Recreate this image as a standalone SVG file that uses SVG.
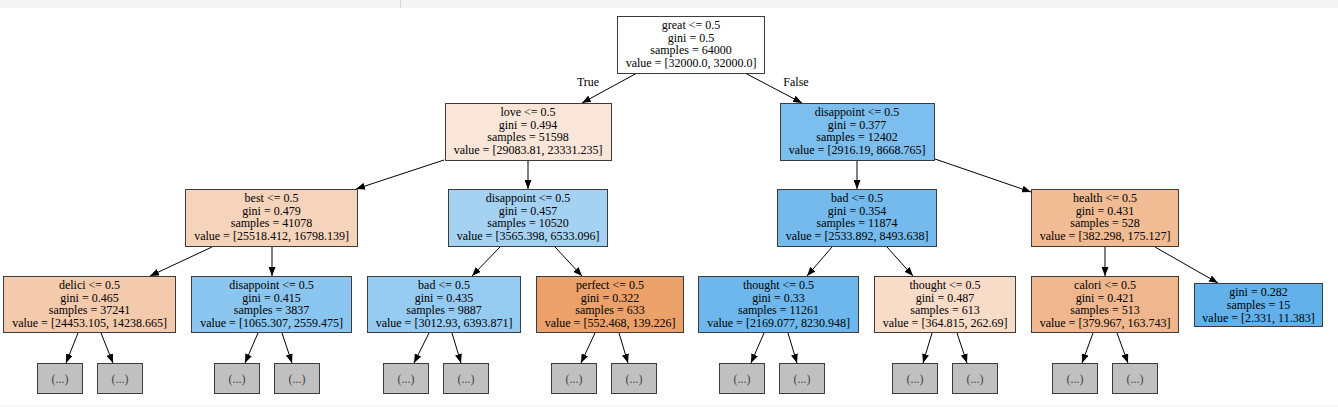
<svg xmlns="http://www.w3.org/2000/svg" width="1338" height="407" viewBox="0 0 1338 407">
<style>
.n rect{stroke:#3c3c3c;stroke-width:1}
.n text{font-family:"Liberation Serif","Times New Roman",serif;font-size:12px;fill:#000;text-anchor:middle}
.e rect{fill:#c0c0c0;stroke:#3c3c3c;stroke-width:1}
.e text{font-family:"Liberation Serif","Times New Roman",serif;font-size:12px;fill:#444;text-anchor:middle}
.c line{stroke:#000;stroke-width:1;marker-end:url(#ah)}
.lbl{font-family:"Liberation Serif","Times New Roman",serif;font-size:12px;fill:#000;text-anchor:middle}
</style>
<defs>
<marker id="ah" markerUnits="userSpaceOnUse" markerWidth="9" markerHeight="7" refX="9" refY="3.5" orient="auto">
<path d="M0,0 L9,3.5 L0,7 z" fill="#000"/>
</marker>
</defs>
<rect x="0" y="0" width="1338" height="407" fill="#fff"/>
<rect x="0" y="0" width="1338" height="8" fill="#f5f5f5"/>
<line x1="400.5" y1="0" x2="400.5" y2="8" stroke="#d8d8d8" stroke-width="1"/>
<rect x="0" y="405" width="1338" height="2" fill="#f7f7f7"/>

<g id="connectors" class="c">
<line x1="637" y1="73" x2="582" y2="103"/>
<line x1="745" y1="73" x2="802" y2="103"/>
<line x1="444" y1="160" x2="356" y2="189"/>
<line x1="528" y1="160" x2="528" y2="189"/>
<line x1="857" y1="160" x2="857" y2="189"/>
<line x1="935" y1="159" x2="1031" y2="192"/>
<line x1="212" y1="247" x2="150" y2="276"/>
<line x1="272" y1="247" x2="272" y2="276"/>
<line x1="500" y1="247" x2="472" y2="276"/>
<line x1="555" y1="247" x2="582" y2="276"/>
<line x1="832" y1="247" x2="807" y2="276"/>
<line x1="887" y1="247" x2="913" y2="276"/>
<line x1="1105" y1="247" x2="1105" y2="276"/>
<line x1="1155" y1="247" x2="1218" y2="283"/>
<line x1="78" y1="333" x2="66" y2="363"/>
<line x1="101" y1="333" x2="113" y2="363"/>
<line x1="258" y1="333" x2="245" y2="363"/>
<line x1="282" y1="333" x2="292" y2="363"/>
<line x1="429" y1="333" x2="414" y2="363"/>
<line x1="452" y1="333" x2="461" y2="363"/>
<line x1="595" y1="333" x2="581" y2="363"/>
<line x1="619" y1="333" x2="628" y2="363"/>
<line x1="764" y1="333" x2="751" y2="363"/>
<line x1="788" y1="333" x2="797" y2="363"/>
<line x1="932" y1="333" x2="923" y2="363"/>
<line x1="957" y1="333" x2="967" y2="363"/>
<line x1="1093" y1="333" x2="1082" y2="363"/>
<line x1="1117" y1="333" x2="1128" y2="363"/>
<text class="lbl" x="588" y="86">True</text>
<text class="lbl" x="796" y="86">False</text>
</g>

<g id="n0" class="n">
<rect x="617.5" y="16.5" width="147" height="57" fill="#ffffff"/>
<text x="691" y="29">great &lt;= 0.5</text>
<text x="691" y="41.6">gini = 0.5</text>
<text x="691" y="54.2">samples = 64000</text>
<text x="691" y="66.8">value = [32000.0, 32000.0]</text>
</g>
<g id="n1" class="n">
<rect x="445.5" y="103.5" width="166" height="57" fill="#fae6d8"/>
<text x="528" y="116">love &lt;= 0.5</text>
<text x="528" y="128.6">gini = 0.494</text>
<text x="528" y="141.2">samples = 51598</text>
<text x="528" y="153.8">value = [29083.81, 23331.235]</text>
</g>
<g id="n2" class="n">
<rect x="780.5" y="103.5" width="154" height="57" fill="#7cbeee"/>
<text x="857" y="116">disappoint &lt;= 0.5</text>
<text x="857" y="128.6">gini = 0.377</text>
<text x="857" y="141.2">samples = 12402</text>
<text x="857" y="153.8">value = [2916.19, 8668.765]</text>
</g>
<g id="n3" class="n">
<rect x="185.5" y="189.5" width="172" height="57" fill="#f6d4bb"/>
<text x="271.5" y="202">best &lt;= 0.5</text>
<text x="271.5" y="214.6">gini = 0.479</text>
<text x="271.5" y="227.2">samples = 41078</text>
<text x="271.5" y="239.8">value = [25518.412, 16798.139]</text>
</g>
<g id="n4" class="n">
<rect x="448.5" y="189.5" width="159" height="57" fill="#a5d2f3"/>
<text x="528" y="202">disappoint &lt;= 0.5</text>
<text x="528" y="214.6">gini = 0.457</text>
<text x="528" y="227.2">samples = 10520</text>
<text x="528" y="239.8">value = [3565.398, 6533.096]</text>
</g>
<g id="n5" class="n">
<rect x="777.5" y="189.5" width="159" height="57" fill="#74baed"/>
<text x="857" y="202">bad &lt;= 0.5</text>
<text x="857" y="214.6">gini = 0.354</text>
<text x="857" y="227.2">samples = 11874</text>
<text x="857" y="239.8">value = [2533.892, 8493.638]</text>
</g>
<g id="n6" class="n">
<rect x="1031.5" y="189.5" width="147" height="57" fill="#f1bb94"/>
<text x="1105" y="202">health &lt;= 0.5</text>
<text x="1105" y="214.6">gini = 0.431</text>
<text x="1105" y="227.2">samples = 528</text>
<text x="1105" y="239.8">value = [382.298, 175.127]</text>
</g>
<g id="n7" class="n">
<rect x="3.5" y="276.5" width="172" height="56" fill="#f4caac"/>
<text x="89.5" y="289">delici &lt;= 0.5</text>
<text x="89.5" y="301.6">gini = 0.465</text>
<text x="89.5" y="314.2">samples = 37241</text>
<text x="89.5" y="326.8">value = [24453.105, 14238.665]</text>
</g>
<g id="n8" class="n">
<rect x="191.5" y="276.5" width="160" height="56" fill="#8bc6f0"/>
<text x="271.5" y="289">disappoint &lt;= 0.5</text>
<text x="271.5" y="301.6">gini = 0.415</text>
<text x="271.5" y="314.2">samples = 3837</text>
<text x="271.5" y="326.8">value = [1065.307, 2559.475]</text>
</g>
<g id="n9" class="n">
<rect x="367.5" y="276.5" width="153" height="56" fill="#96cbf1"/>
<text x="444" y="289">bad &lt;= 0.5</text>
<text x="444" y="301.6">gini = 0.435</text>
<text x="444" y="314.2">samples = 9887</text>
<text x="444" y="326.8">value = [3012.93, 6393.871]</text>
</g>
<g id="n10" class="n">
<rect x="536.5" y="276.5" width="147" height="56" fill="#eca16b"/>
<text x="610" y="289">perfect &lt;= 0.5</text>
<text x="610" y="301.6">gini = 0.322</text>
<text x="610" y="314.2">samples = 633</text>
<text x="610" y="326.8">value = [552.468, 139.226]</text>
</g>
<g id="n11" class="n">
<rect x="698.5" y="276.5" width="160" height="56" fill="#6db7ec"/>
<text x="778.5" y="289">thought &lt;= 0.5</text>
<text x="778.5" y="301.6">gini = 0.33</text>
<text x="778.5" y="314.2">samples = 11261</text>
<text x="778.5" y="326.8">value = [2169.077, 8230.948]</text>
</g>
<g id="n12" class="n">
<rect x="874.5" y="276.5" width="141" height="56" fill="#f8dcc8"/>
<text x="945" y="289">thought &lt;= 0.5</text>
<text x="945" y="301.6">gini = 0.487</text>
<text x="945" y="314.2">samples = 613</text>
<text x="945" y="326.8">value = [364.815, 262.69]</text>
</g>
<g id="n13" class="n">
<rect x="1031.5" y="276.5" width="147" height="56" fill="#f0b78e"/>
<text x="1105" y="289">calori &lt;= 0.5</text>
<text x="1105" y="301.6">gini = 0.421</text>
<text x="1105" y="314.2">samples = 513</text>
<text x="1105" y="326.8">value = [379.967, 163.743]</text>
</g>
<g id="n14" class="n">
<rect x="1194.5" y="283.5" width="128" height="43" fill="#62b1ea"/>
<text x="1258.5" y="296.4">gini = 0.282</text>
<text x="1258.5" y="309">samples = 15</text>
<text x="1258.5" y="321.6">value = [2.331, 11.383]</text>
</g>

<g id="e1" class="e"><rect x="37.5" y="363.5" width="45" height="30"/><text x="60" y="382.5">(...)</text></g>
<g id="e2" class="e"><rect x="97.5" y="363.5" width="45" height="30"/><text x="120" y="382.5">(...)</text></g>
<g id="e3" class="e"><rect x="214.5" y="363.5" width="45" height="30"/><text x="237" y="382.5">(...)</text></g>
<g id="e4" class="e"><rect x="274.5" y="363.5" width="45" height="30"/><text x="297" y="382.5">(...)</text></g>
<g id="e5" class="e"><rect x="383.5" y="363.5" width="45" height="30"/><text x="406" y="382.5">(...)</text></g>
<g id="e6" class="e"><rect x="443.5" y="363.5" width="45" height="30"/><text x="466" y="382.5">(...)</text></g>
<g id="e7" class="e"><rect x="551.5" y="363.5" width="45" height="30"/><text x="574" y="382.5">(...)</text></g>
<g id="e8" class="e"><rect x="611.5" y="363.5" width="45" height="30"/><text x="634" y="382.5">(...)</text></g>
<g id="e9" class="e"><rect x="719.5" y="363.5" width="45" height="30"/><text x="742" y="382.5">(...)</text></g>
<g id="e10" class="e"><rect x="779.5" y="363.5" width="45" height="30"/><text x="802" y="382.5">(...)</text></g>
<g id="e11" class="e"><rect x="892.5" y="363.5" width="45" height="30"/><text x="915" y="382.5">(...)</text></g>
<g id="e12" class="e"><rect x="952.5" y="363.5" width="45" height="30"/><text x="975" y="382.5">(...)</text></g>
<g id="e13" class="e"><rect x="1052.5" y="363.5" width="45" height="30"/><text x="1075" y="382.5">(...)</text></g>
<g id="e14" class="e"><rect x="1112.5" y="363.5" width="45" height="30"/><text x="1135" y="382.5">(...)</text></g>
</svg>
